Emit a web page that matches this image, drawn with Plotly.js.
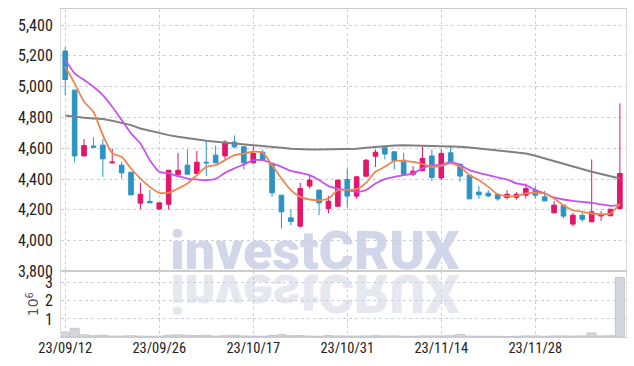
<!DOCTYPE html>
<html>
<head>
<meta charset="utf-8">
<script src="https://cdn.plot.ly/plotly-3.0.1.min.js"></script>
<style>html,body{margin:0;padding:0;background:#fff;}#chart{width:634px;height:366px;}</style>
</head>
<body>
<div id="chart"></div>
<script>
const dates = ['23/09/12','23/09/13','23/09/14','23/09/15','23/09/18','23/09/19','23/09/20','23/09/21','23/09/22','23/09/25',
'23/09/26','23/09/27','23/10/04','23/10/05','23/10/06','23/10/10','23/10/11','23/10/12','23/10/13','23/10/16',
'23/10/17','23/10/18','23/10/19','23/10/20','23/10/23','23/10/24','23/10/25','23/10/26','23/10/27','23/10/30',
'23/10/31','23/11/01','23/11/02','23/11/03','23/11/06','23/11/07','23/11/08','23/11/09','23/11/10','23/11/13',
'23/11/14','23/11/15','23/11/16','23/11/17','23/11/20','23/11/21','23/11/22','23/11/23','23/11/24','23/11/27',
'23/11/28','23/11/29','23/11/30','23/12/01','23/12/04','23/12/05','23/12/06','23/12/07','23/12/08','23/12/11'];

const openP  = [5231,4977,4550,4614,4620,4505,4490,4444,4243,4254, 4205,4236,4427,4490,4436,4509,4555,4550,4640,4609,
                4505,4574,4501,4295,4148,4094,4354,4328,4208,4223, 4397,4289,4418,4548,4603,4577,4522,4431,4453,4549,
                4407,4570,4497,4425,4315,4308,4301,4280,4280,4295, 4328,4284,4180,4230,4107,4165,4122,4160,4161,4208];
const highP  = [5257,4980,4659,4670,4659,4598,4511,4446,4375,4329, 4245,4457,4570,4592,4583,4648,4616,4652,4683,4609,
                4614,4590,4501,4295,4202,4375,4432,4328,4289,4393, 4469,4420,4530,4592,4610,4577,4570,4483,4620,4592,
                4592,4616,4497,4425,4354,4328,4301,4328,4315,4371, 4354,4323,4256,4230,4180,4180,4527,4191,4204,4891];
const lowP   = [4945,4508,4550,4603,4414,4500,4404,4295,4204,4245, 4200,4202,4427,4431,4436,4419,4505,4522,4600,4462,
                4500,4522,4284,4078,4100,4085,4338,4165,4176,4223, 4215,4271,4418,4479,4527,4462,4425,4419,4450,4386,
                4393,4505,4382,4271,4271,4284,4258,4267,4267,4273, 4273,4255,4180,4144,4092,4122,4120,4128,4160,4204];
const closeP = [5046,4550,4618,4607,4531,4510,4440,4297,4301,4245, 4245,4457,4457,4431,4509,4505,4505,4640,4609,4505,
                4566,4522,4310,4187,4124,4338,4393,4245,4256,4393, 4289,4414,4522,4574,4562,4518,4431,4451,4534,4410,
                4566,4511,4419,4271,4297,4290,4271,4301,4301,4338, 4295,4258,4230,4159,4165,4139,4187,4165,4204,4436];

const ma5  = [5129,5021,4902,4837,4685,4566,4544,4468,4403,4349, 4310,4310,4338,4371,4425,4479,4490,4522,4555,4565,
              4577,4570,4490,4403,4328,4284,4267,4262,4273,4328, 4328,4334,4375,4447,4479,4518,4518,4511,4497,4479,
              4485,4501,4479,4425,4393,4349,4301,4289,4289,4306, 4310,4306,4273,4230,4197,4187,4176,4171,4176,4241];
const ma20 = [5177,5086,5043,4999,4945,4869,4783,4696,4631,4522, 4447,4436,4418,4403,4397,4393,4401,4440,4469,4494,
              4522,4522,4501,4479,4453,4440,4425,4393,4354,4338, 4328,4317,4328,4371,4399,4414,4425,4436,4469,4490,
              4490,4511,4490,4458,4440,4425,4410,4397,4371,4360, 4328,4306,4280,4267,4258,4251,4245,4235,4226,4230];
const ma60 = [4812,4804,4798,4793,4789,4778,4765,4750,4728,4713, 4696,4685,4674,4664,4657,4648,4642,4637,4631,4626,
              4620,4614,4609,4603,4596,4592,4592,4592,4594,4596, 4596,4596,4603,4609,4614,4618,4620,4618,4616,4616,
              4616,4614,4609,4605,4598,4594,4587,4581,4574,4566, 4551,4533,4516,4497,4479,4462,4447,4432,4418,4403];
const volumeM = [0.27,0.48,0.12,0.07,0.10,0.05,0.05,0.07,0.05,0.04, 0.05,0.10,0.12,0.10,0.08,0.10,0.05,0.07,0.10,0.06,
                 0.05,0.04,0.08,0.13,0.07,0.08,0.05,0.04,0.08,0.06, 0.05,0.05,0.06,0.07,0.06,0.06,0.04,0.04,0.06,0.06,
                 0.06,0.07,0.14,0.05,0.04,0.04,0.04,0.03,0.04,0.06, 0.06,0.04,0.06,0.06,0.05,0.06,0.22,0.06,0.07,3.30];
const tickDates = ['23/09/12','23/09/26','23/10/17','23/10/31','23/11/14','23/11/28'];
const priceTicks = [3800,4000,4200,4400,4600,4800,5000,5200,5400];
const volTicks = [1,2,3];

const fam = '"Liberation Sans Narrow","Arial Narrow","Roboto Condensed","DejaVu Sans",sans-serif';
const yFont = {family:fam, size:16, color:'#222', stretch:'condensed'};
const xFont = {family:fam, size:14.5, color:'#222', stretch:'condensed'};
const gridC = '#c9cfe0';

const traces = [
  {type:'bar', x:dates, y:volumeM, xaxis:'x', yaxis:'y2',
   marker:{color:'#d6d6dd', line:{color:'#c4c4cc', width:1}}, hoverinfo:'skip'},
  {type:'candlestick', x:dates, open:openP, high:highP, low:lowP, close:closeP, xaxis:'x', yaxis:'y',
   increasing:{line:{color:'#e2166a', width:1}, fillcolor:'#e2166a'},
   decreasing:{line:{color:'#2d93c5', width:1}, fillcolor:'#2d93c5'}, whiskerwidth:0},
  {type:'scatter', mode:'lines', x:dates, y:ma60, line:{color:'#808080', width:2}, xaxis:'x', yaxis:'y'},
  {type:'scatter', mode:'lines', x:dates, y:ma20, line:{color:'#c653ee', width:1.8, shape:'spline', smoothing:0.6}, xaxis:'x', yaxis:'y'},
  {type:'scatter', mode:'lines', x:dates, y:ma5, line:{color:'#ee8650', width:1.8, shape:'spline', smoothing:0.6}, xaxis:'x', yaxis:'y'}
];

const layout = {
  width:634, height:366,
  margin:{l:61, r:8, t:9, b:29},
  paper_bgcolor:'#fff', plot_bgcolor:'#fff',
  showlegend:false, bargap:0.04,
  xaxis:{type:'category', range:[-0.45,59.65], tickvals:tickDates, ticktext:tickDates, anchor:'y2',
         rangeslider:{visible:false}, showgrid:true, gridcolor:gridC, griddash:'dot', gridwidth:1,
         showline:true, linecolor:'#cccccc', mirror:'all', ticks:'', tickfont:xFont, zeroline:false,
         ticklabelstandoff:-2},
  yaxis:{domain:[0.2,1], range:[3800,5504], tickvals:priceTicks, tickformat:',d', showgrid:true, gridcolor:gridC,
         griddash:'dot', showline:true, linecolor:'#dddddd', mirror:true, ticks:'', tickfont:yFont,
         zeroline:false, ticklabelstandoff:4},
  yaxis2:{domain:[0,0.2], range:[0,3.63], tickvals:volTicks, showgrid:true, gridcolor:gridC, griddash:'dot',
          showline:true, linecolor:'#dddddd', mirror:true, ticks:'', tickfont:yFont, zeroline:false,
          ticklabelstandoff:4,
          title:{text:'10<sup>6</sup>', font:{family:'"DejaVu Sans",sans-serif', size:14, color:'#555'}, standoff:2}},
  annotations:[
    {text:'investCRUX', xref:'paper', yref:'paper', x:0.45, y:0.163, xanchor:'center', yanchor:'bottom',
     showarrow:false, font:{family:'Roboto, "DejaVu Sans", sans-serif', size:54, weight:900, color:'#d1d7e8'}},
    {text:'investCRUX', xref:'paper', yref:'paper', x:0.45, y:0.163, xanchor:'center', yanchor:'bottom',
     showarrow:false, font:{family:'Roboto, "DejaVu Sans", sans-serif', size:54, weight:900, color:'#e6e8f0'}}
  ]
};

const gd = document.getElementById('chart');
Plotly.newPlot(gd, traces, layout, {staticPlot:true, displayModeBar:false}).then(function(){
  const anns = gd.querySelectorAll('.annotation');
  const below = gd.querySelector('.main-svg .layer-below');
  anns.forEach(function(a, i){
    if (i === 1) a.setAttribute('transform', 'matrix(1,0,0,-1,0,' + (2*272) + ')');
    if (below) below.appendChild(a);
  });
});
</script>
</body>
</html>
